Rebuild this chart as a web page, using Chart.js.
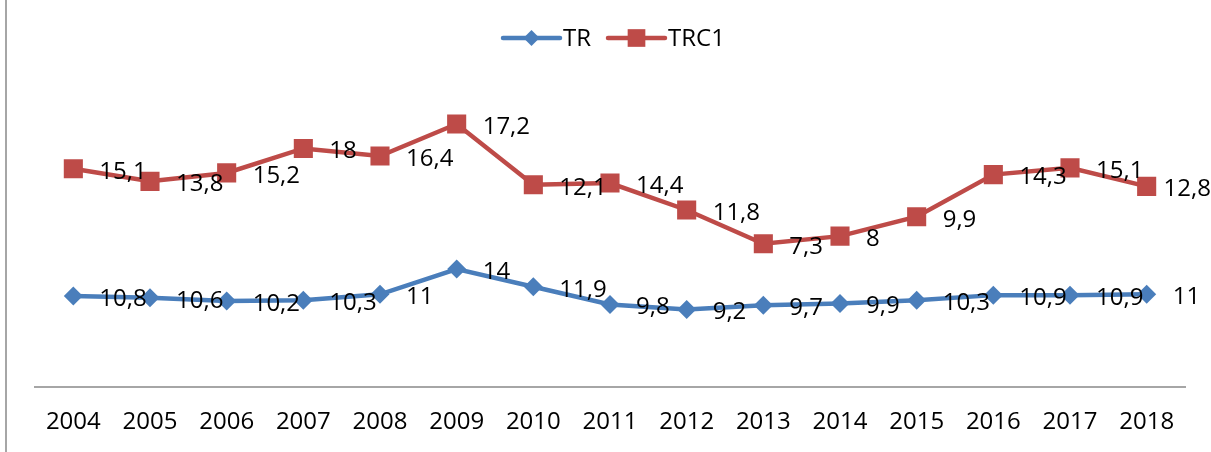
<!DOCTYPE html>
<html>
<head>
<meta charset="utf-8">
<script src="https://cdn.jsdelivr.net/npm/chart.js@4"></script>
<style>
  html, body { margin: 0; padding: 0; background: #fff; }
  #wrap { position: relative; width: 1211px; height: 452px; }
  #frame { position: absolute; left: 5px; top: 0; width: 2px; height: 452px; background: #a6a6a6; }
</style>
</head>
<body>
<div id="wrap">
  <canvas id="myChart" width="1211" height="452"></canvas>
  <div id="frame"></div>
</div>
<script>
// Dados do gráfico
const years = ['2004', '2005', '2006', '2007', '2008', '2009', '2010', '2011', '2012', '2013', '2014', '2015', '2016', '2017', '2018'];
const tr = [10.8, 10.6, 10.2, 10.3, 11, 14, 11.9, 9.8, 9.2, 9.7, 9.9, 10.3, 10.9, 10.9, 11];
const trc1 = [15.1, 13.8, 15.2, 18, 16.4, 17.2, 12.1, 14.4, 11.8, 7.3, 8, 9.9, 14.3, 15.1, 12.8];

const blue = '#4a7ebb';
const red = '#be4b48';
const font = '"Open Sans", "Liberation Sans", sans-serif';

// rótulos de dados à direita de cada ponto
const dataLabels = {
    id: 'dataLabels',
    afterDatasetsDraw(chart) {
        const ctx = chart.ctx;
        ctx.save();
        ctx.font = '24px ' + font;
        ctx.fillStyle = '#000';
        ctx.textAlign = 'left';
        ctx.textBaseline = 'middle';
        chart.data.datasets.forEach((ds, i) => {
            const meta = chart.getDatasetMeta(i);
            meta.data.forEach((pt, j) => {
                const txt = String(ds.data[j]).replace('.', ',');
                const w = ctx.measureText(txt).width;
                let x = pt.x + 26;
                if (x + w > chart.width) x = chart.width - w;
                ctx.fillText(txt, x, pt.y + 3);
            });
        });
        ctx.restore();
    }
};

// legenda no estilo Excel (linha com marcador)
const excelLegend = {
    id: 'excelLegend',
    afterDraw(chart) {
        const ctx = chart.ctx;
        const items = [
            { text: 'TR', color: blue, style: 'rectRot', radius: 8, x: 503 },
            { text: 'TRC1', color: red, style: 'rect', radius: 12.5, x: 608 }
        ];
        const y = 38;
        ctx.save();
        ctx.font = '24px ' + font;
        ctx.textBaseline = 'middle';
        items.forEach(it => {
            ctx.strokeStyle = it.color;
            ctx.lineWidth = 4.5;
            ctx.lineCap = 'round';
            ctx.beginPath();
            ctx.moveTo(it.x, y);
            ctx.lineTo(it.x + 57, y);
            ctx.stroke();
            ctx.fillStyle = it.color;
            Chart.helpers.drawPoint(ctx, { pointStyle: it.style, radius: it.radius, rotation: 0, borderWidth: 0 }, it.x + 28.5, y);
            ctx.fillStyle = '#000';
            ctx.fillText(it.text, it.x + 60, y + 1);
        });
        ctx.restore();
    }
};

const ctx = document.getElementById('myChart').getContext('2d');
const myChart = new Chart(ctx, {
    type: 'line',
    data: {
        labels: years,
        datasets: [{
            label: 'TR',
            data: tr,
            borderColor: blue,
            backgroundColor: blue,
            borderWidth: 4.5,
            pointStyle: 'rectRot',
            pointRadius: 9.5,
            pointBorderWidth: 0,
            tension: 0,
            fill: false
        }, {
            label: 'TRC1',
            data: trc1,
            borderColor: red,
            backgroundColor: red,
            borderWidth: 4.5,
            pointStyle: 'rect',
            pointRadius: 13.5,
            pointBorderWidth: 0,
            tension: 0,
            fill: false
        }]
    },
    options: {
        responsive: false,
        animation: false,
        layout: { padding: { top: 92, left: 35, right: 26, bottom: 0 } },
        plugins: {
            legend: { display: false },
            tooltip: { enabled: false }
        },
        scales: {
            x: {
                offset: true,
                grid: { display: false, drawTicks: false },
                border: { display: true, color: '#a6a6a6', width: 2 },
                ticks: { color: '#000', padding: 21, font: { family: font, size: 24 } },
                afterFit(scale) { scale.height = 65; }
            },
            y: {
                display: false,
                stacked: true,
                min: 0,
                max: 35
            }
        }
    },
    plugins: [dataLabels, excelLegend]
});
</script>
</body>
</html>
